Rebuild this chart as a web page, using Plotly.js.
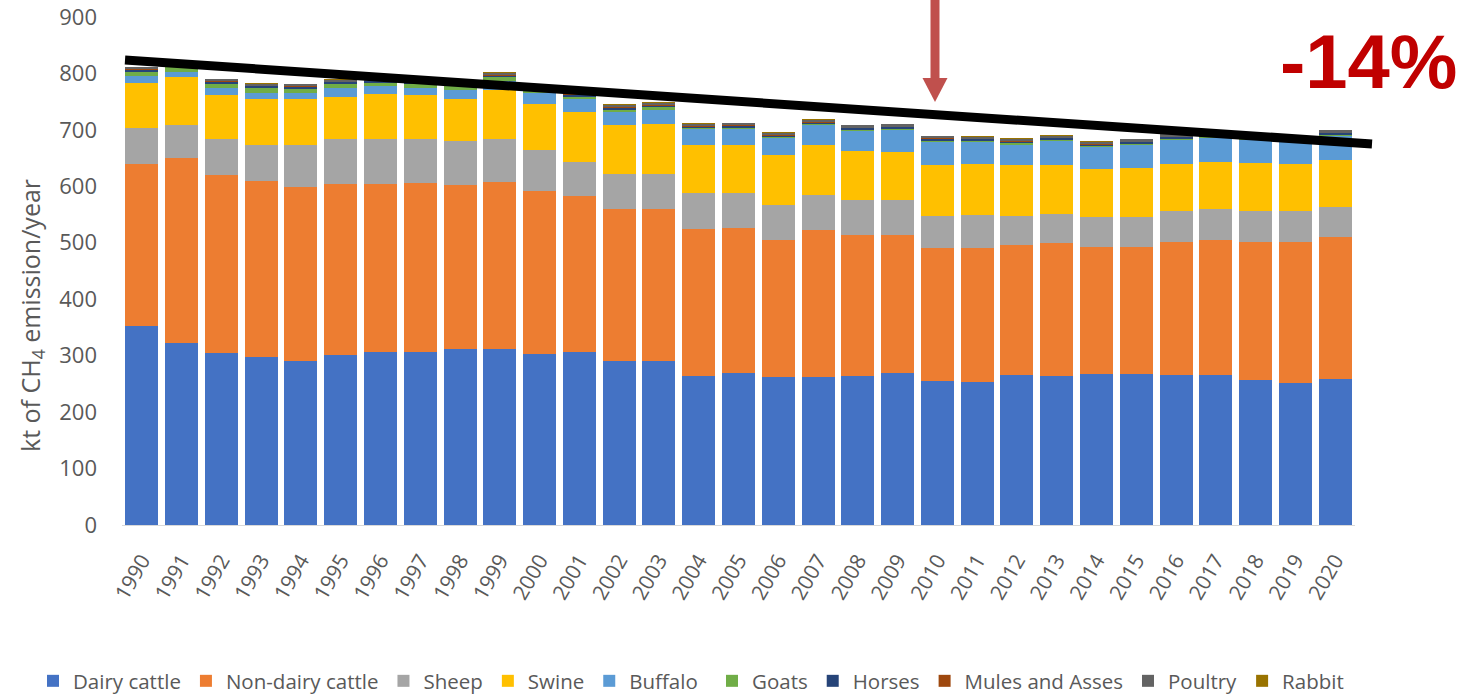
<!DOCTYPE html>
<html>
<head>
<meta charset="utf-8">
<script src="https://cdn.plot.ly/plotly-3.0.1.min.js"></script>
<style>
  html, body { margin: 0; padding: 0; background: #ffffff; }
  #chart { width: 1478px; height: 694px; }
</style>
</head>
<body>
<div id="chart"></div>
<script>
// Livestock enteric CH4 emissions, kt per year, by animal category
const years = ['1990','1991','1992','1993','1994','1995','1996','1997','1998','1999',
               '2000','2001','2002','2003','2004','2005','2006','2007','2008','2009',
               '2010','2011','2012','2013','2014','2015','2016','2017','2018','2019','2020'];

const dairyCattle = [352,322,304,297,291,301,307,306,311,312,303,306,291,291,264,269,262,262,264,270,256,254,266,264,267,267,266,266,257,251,258];
const nonDairyCattle = [288,328,316,312,308,303,297,300,292,295,288,276,269,269,260,258,243,261,250,244,235,237,230,235,225,225,236,239,245,251,252];
const sheep = [63,59,63,65,75,79,80,77,77,76,73,62,62,62,64,61,62,62,61,61,57,59,52,52,53,53,55,54,55,55,53];
const swine = [80,85,79,80,80,76,80,79,75,87,82,87,87,89,86,86,89,89,87,85,90,90,89,87,86,87,83,85,84,83,83];
const buffalo = [12,9,12,12,11,16,13,13,16,17,19,24,23,25,27,28,29,34,36,40,41,38,37,42,38,41,42,41,41,39,43];
const goats = [8,8,8,8,8,6,6,6,6,6,4,4,4,4,2,2,2,2,2,2,2,2,2,2,2,2,2,2,2,2,2];
const horses = [3,3,3,3,3,3,3,3,3,3,3,3,3,3,3,3,3,3,3,3,3,3,3,3,3,3,3,3,3,3,3];
const mulesAndAsses = [1,1,1,1,1,1,1,1,1,1,1,1,1,1,1,1,1,1,1,1,1,1,1,1,1,1,1,1,1,1,1];
const poultry = [4,4,4,4,4,4,4,4,4,4,4,4,4,4,4,4,4,4,4,4,4,4,4,4,4,4,4,4,4,4,4];
const rabbit = [1,1,1,1,1,1,1,1,1,1,1,1,1,1,1,1,1,1,1,1,1,1,1,1,1,1,1,1,1,1,1];

const seriesNames = ['Dairy cattle','Non-dairy cattle','Sheep','Swine','Buffalo','Goats','Horses','Mules and Asses','Poultry','Rabbit'];
const seriesValues = [dairyCattle, nonDairyCattle, sheep, swine, buffalo, goats, horses, mulesAndAsses, poultry, rabbit];
const seriesColors = ['#4472C4','#ED7D31','#A5A5A5','#FFC000','#5B9BD5','#70AD47','#264478','#9E480E','#636363','#997300'];

const changeLabel = '-14%';

// the key row is split over two legend boxes so it stays on one line
const traces = seriesNames.map((name, i) => ({
  type: 'bar',
  name: name,
  x: years,
  y: seriesValues[i],
  legend: i < 5 ? 'legend' : 'legend2',
  marker: { color: seriesColors[i], line: { width: 0 } },
  hovertemplate: name + ' %{x}: %{y} kt<extra></extra>'
}));

// plot area: left 122px, right edge 1355px, top 17px, bottom 525px
const W = 1478, H = 694;
const L = 122, R = 1355, T = 17, B = 525;
const px = v => (v - L) / (R - L);
const py = v => (B - v) / (B - T);

const textGray = '#595959';
const font = 'Open Sans, Noto Sans, sans-serif';

const legendStyle = (left) => ({
  orientation: 'h',
  traceorder: 'normal',
  xref: 'container',
  yref: 'container',
  x: left / W,
  xanchor: 'left',
  y: (H - 681) / H,
  yanchor: 'middle',
  font: { size: 20.5, color: textGray, family: font },
  bgcolor: 'rgba(0,0,0,0)'
});

const layout = {
  width: W,
  height: H,
  margin: { l: L, r: W - R, t: T, b: H - B },
  paper_bgcolor: '#ffffff',
  plot_bgcolor: '#ffffff',
  barmode: 'stack',
  bargap: 0.17,
  showlegend: true,
  font: { family: font, color: textGray },
  xaxis: {
    type: 'category',
    tickangle: -60,
    tickfont: { size: 21, color: textGray, family: font },
    showgrid: false,
    showline: true,
    linecolor: '#d9d9d9',
    linewidth: 1,
    ticks: '',
    ticklabelstandoff: 14,
    automargin: false,
    fixedrange: true
  },
  yaxis: {
    range: [0, 900],
    dtick: 100,
    tickfont: { size: 22, color: textGray, family: font },
    showgrid: false,
    zeroline: false,
    showline: false,
    ticks: '',
    ticklabelstandoff: 24,
    automargin: false,
    fixedrange: true
  },
  legend: legendStyle(33),
  legend2: legendStyle(712),
  annotations: [
    {
      text: 'kt of CH<sub>4</sub> emission/year',
      xref: 'paper', yref: 'paper',
      x: px(31), y: py(316),
      xanchor: 'center', yanchor: 'middle',
      textangle: -90,
      showarrow: false,
      font: { size: 25, color: textGray, family: font }
    },
    {
      text: '<b>' + changeLabel + '</b>',
      xref: 'paper', yref: 'paper',
      x: px(1368), y: py(62),
      xanchor: 'center', yanchor: 'middle',
      showarrow: false,
      font: { size: 76, color: '#C00000', family: 'Liberation Sans, Arial, sans-serif' }
    }
  ],
  shapes: [
    // trend line across the bar tops
    {
      type: 'line',
      xref: 'paper', yref: 'paper',
      x0: px(125), y0: py(60),
      x1: px(1372), y1: py(144),
      line: { color: '#000000', width: 9 }
    },
    // arrow shaft
    {
      type: 'rect',
      xref: 'paper', yref: 'paper',
      x0: px(930.5), x1: px(939.5),
      y0: py(0), y1: py(80),
      fillcolor: '#C0504D',
      line: { width: 0 }
    },
    // arrow head
    {
      type: 'path',
      xref: 'paper', yref: 'paper',
      path: 'M ' + px(922.5) + ' ' + py(78) +
            ' L ' + px(947.5) + ' ' + py(78) +
            ' L ' + px(935) + ' ' + py(102) + ' Z',
      fillcolor: '#C0504D',
      line: { width: 0 }
    }
  ]
};

Plotly.newPlot('chart', traces, layout, { displayModeBar: false, staticPlot: true });
</script>
</body>
</html>
